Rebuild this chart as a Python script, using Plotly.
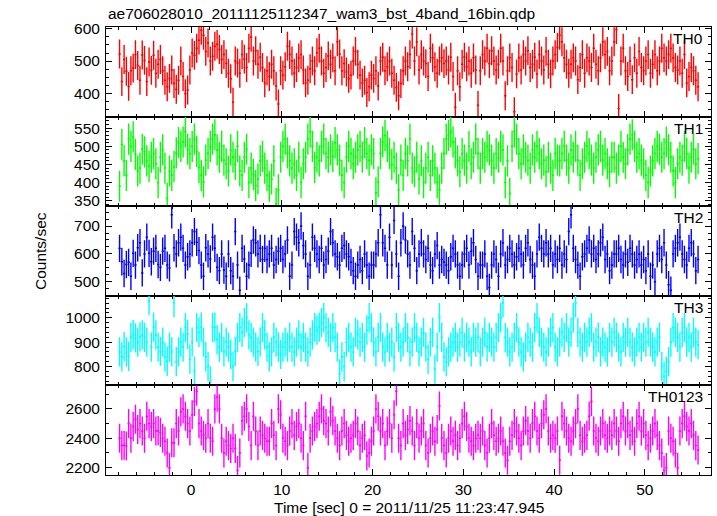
import numpy as np
import plotly.graph_objects as go

# ---------------- data ----------------
title_text = "ae706028010_20111125112347_wam3_bst_4band_16bin.qdp"
x_title = "Time [sec] 0 = 2011/11/25 11:23:47.945"
y_title = "Counts/sec"
panel_names = ["TH0", "TH1", "TH2", "TH3", "TH0123"]

t_start = -8.0          # s, start of first bin
bin_width = 0.25        # s
n_bins = 256

th0 = [
    522, 436, 505, 468, 421, 470, 478, 520, 486, 440, 519, 502, 436, 497, 471, 518,
    462, 490, 505, 470, 440, 420, 446, 472, 430, 412, 440, 500, 452, 398, 410, 472,
    525, 518, 540, 565, 596, 580, 530, 556, 500, 515, 546, 552, 536, 505, 520, 492,
    462, 445, 372, 500, 494, 462, 520, 506, 480, 540, 574, 500, 532, 490, 512, 480,
    432, 470, 452, 490, 470, 422, 366, 470, 456, 482, 546, 520, 500, 462, 480, 510,
    520, 472, 432, 440, 476, 500, 470, 526, 540, 500, 462, 480, 516, 490, 510, 470,
    560, 522, 470, 492, 466, 446, 456, 500, 530, 490, 456, 432, 440, 402, 420, 456,
    446, 470, 422, 500, 512, 470, 482, 500, 462, 440, 418, 392, 430, 470, 500, 482,
    520, 584, 500, 560, 472, 520, 500, 492, 452, 540, 510, 482, 462, 500, 510, 492,
    500, 472, 512, 452, 356, 470, 420, 490, 512, 482, 500, 462, 510, 472, 362, 470,
    520, 500, 540, 492, 532, 500, 472, 490, 540, 500, 392, 470, 510, 480, 342, 460,
    510, 472, 520, 500, 532, 480, 490, 512, 460, 520, 500, 472, 530, 490, 460, 500,
    520, 542, 580, 560, 510, 490, 462, 490, 510, 500, 442, 480, 520, 462, 510, 500,
    480, 540, 490, 470, 510, 560, 520, 530, 470, 500, 560, 598, 352, 500, 540, 470,
    452, 500, 442, 510, 462, 530, 480, 470, 500, 520, 462, 490, 520, 470, 500, 540,
    510, 500, 520, 540, 510, 480, 472, 500, 462, 520, 432, 452, 480, 470, 440, 420,
]

th1 = [
    390, 505, 460, 420, 520, 500, 526, 478, 432, 440, 492, 485, 460, 445, 470, 480,
    452, 400, 470, 490, 440, 356, 432, 420, 444, 482, 510, 500, 512, 540, 492, 480,
    500, 520, 486, 442, 420, 402, 462, 480, 500, 520, 532, 490, 470, 500, 462, 452,
    432, 490, 470, 450, 500, 432, 420, 470, 492, 400, 440, 422, 392, 410, 460, 472,
    440, 420, 390, 410, 460, 342, 380, 470, 500, 520, 482, 460, 440, 452, 420, 470,
    400, 452, 470, 520, 540, 500, 442, 470, 460, 500, 520, 480, 470, 490, 472, 510,
    490, 462, 420, 400, 470, 500, 480, 452, 470, 490, 500, 470, 510, 480, 462, 490,
    480, 372, 402, 480, 512, 530, 500, 480, 450, 470, 440, 380, 462, 420, 480, 460,
    520, 440, 430, 470, 410, 460, 400, 440, 470, 420, 460, 440, 400, 380, 440, 480,
    520, 530, 540, 512, 482, 460, 430, 480, 462, 440, 500, 452, 470, 520, 480, 440,
    480, 470, 500, 490, 462, 440, 480, 470, 500, 490, 400, 460, 370, 500, 540, 520,
    480, 452, 490, 470, 462, 440, 490, 470, 500, 480, 452, 462, 430, 470, 440, 420,
    480, 462, 460, 480, 500, 462, 440, 490, 470, 500, 462, 420, 452, 470, 500, 480,
    462, 440, 470, 490, 500, 462, 480, 452, 430, 470, 470, 440, 462, 500, 470, 452,
    490, 520, 532, 500, 470, 480, 462, 452, 420, 400, 432, 460, 480, 500, 492, 470,
    480, 512, 490, 470, 432, 400, 452, 470, 462, 500, 480, 440, 470, 492, 452, 466,
]

th2 = [
    620, 572, 530, 562, 570, 520, 602, 560, 622, 640, 532, 600, 660, 602, 572, 610,
    620, 562, 552, 610, 620, 560, 550, 740, 622, 600, 640, 660, 620, 560, 590, 600,
    640, 680, 642, 612, 560, 520, 622, 600, 582, 660, 620, 552, 540, 600, 542, 520,
    600, 540, 520, 680, 560, 470, 620, 582, 520, 560, 602, 650, 640, 600, 620, 580,
    620, 580, 600, 620, 560, 580, 610, 620, 580, 600, 650, 520, 560, 680, 660, 640,
    700, 630, 600, 520, 560, 660, 620, 600, 580, 620, 560, 580, 610, 680, 640, 600,
    590, 560, 620, 630, 600, 590, 570, 540, 520, 560, 580, 540, 600, 560, 520, 560,
    560, 600, 640, 740, 640, 620, 560, 660, 560, 720, 600, 520, 640, 700, 650, 600,
    560, 680, 620, 540, 600, 640, 600, 580, 620, 560, 540, 600, 630, 560, 580, 570,
    560, 540, 590, 620, 600, 560, 520, 560, 600, 620, 560, 610, 640, 580, 520, 560,
    560, 600, 520, 480, 560, 600, 580, 520, 600, 640, 560, 580, 620, 600, 560, 590,
    620, 600, 560, 620, 640, 580, 560, 520, 600, 660, 620, 600, 640, 600, 620, 560,
    600, 580, 620, 560, 600, 580, 680, 740, 620, 580, 560, 520, 590, 600, 620, 650,
    600, 620, 580, 600, 640, 660, 580, 600, 540, 560, 600, 600, 620, 580, 560, 600,
    570, 620, 600, 560, 580, 600, 560, 580, 540, 600, 520, 560, 500, 600, 620, 580,
    640, 560, 490, 470, 600, 620, 640, 660, 600, 580, 560, 620, 640, 600, 540, 580,
]

th3 = [
    860, 840, 882, 860, 842, 920, 932, 918, 900, 922, 930, 920, 900, 1070, 880, 962,
    930, 880, 862, 900, 840, 822, 880, 860, 1062, 820, 860, 900, 880, 960, 932, 830,
    900, 780, 960, 940, 962, 900, 840, 800, 740, 960, 962, 910, 880, 920, 860, 900,
    880, 850, 800, 862, 920, 960, 940, 980, 1000, 930, 920, 900, 880, 862, 900, 960,
    930, 880, 840, 860, 920, 900, 880, 850, 880, 900, 880, 920, 880, 860, 900, 930,
    880, 920, 880, 860, 900, 930, 960, 950, 962, 980, 1000, 960, 940, 920, 960, 920,
    880, 770, 840, 800, 900, 920, 880, 860, 940, 930, 900, 920, 880, 950, 1000, 960,
    900, 860, 920, 960, 880, 860, 920, 880, 900, 840, 960, 920, 880, 900, 960, 920,
    860, 900, 960, 920, 860, 900, 940, 880, 830, 900, 940, 790, 880, 1000, 920, 840,
    820, 860, 880, 900, 920, 880, 900, 940, 880, 920, 900, 860, 920, 900, 920, 860,
    900, 940, 880, 920, 900, 880, 920, 960, 1000, 1062, 920, 900, 860, 880, 920, 960,
    900, 860, 840, 880, 920, 900, 880, 960, 1000, 940, 900, 880, 860, 900, 940, 960,
    880, 860, 900, 940, 920, 960, 900, 940, 1000, 1062, 940, 900, 880, 920, 900, 940,
    960, 880, 900, 920, 860, 900, 880, 860, 920, 900, 940, 920, 880, 860, 920, 900,
    940, 900, 880, 860, 900, 920, 880, 920, 900, 940, 900, 880, 860, 900, 920, 800,
    760, 780, 820, 900, 960, 940, 920, 880, 940, 960, 900, 920, 880, 940, 900, 890,
]

th0123 = [
    2400, 2350, 2352, 2348, 2500, 2400, 2480, 2530, 2460, 2500, 2450, 2400, 2550, 2500, 2480, 2500,
    2450, 2452, 2440, 2400, 2380, 2300, 2200, 2370, 2370, 2500, 2450, 2580, 2600, 2550, 2500, 2450,
    2560, 2650, 2720, 2500, 2450, 2420, 2400, 2500, 2400, 2380, 2600, 2680, 2600, 2400, 2300, 2380,
    2350, 2330, 2400, 2330, 2180, 2300, 2520, 2550, 2600, 2480, 2350, 2550, 2450, 2350, 2450, 2420,
    2400, 2380, 2380, 2500, 2420, 2350, 2600, 2560, 2400, 2380, 2350, 2450, 2500, 2420, 2480, 2500,
    2400, 2350, 2550, 2200, 2400, 2450, 2480, 2500, 2550, 2600, 2520, 2500, 2450, 2580, 2520, 2450,
    2400, 2350, 2450, 2500, 2420, 2380, 2400, 2420, 2500, 2450, 2350, 2400, 2420, 2280, 2300, 2380,
    2450, 2600, 2550, 2450, 2500, 2350, 2450, 2500, 2400, 2560, 2720, 2400, 2350, 2500, 2420, 2460,
    2520, 2450, 2350, 2500, 2400, 2450, 2500, 2350, 2300, 2400, 2450, 2380, 2460, 2620, 2400, 2350,
    2300, 2400, 2450, 2380, 2420, 2350, 2400, 2500, 2550, 2480, 2400, 2380, 2350, 2400, 2420, 2400,
    2450, 2350, 2300, 2400, 2500, 2420, 2380, 2400, 2450, 2380, 2300, 2250, 2380, 2420, 2500, 2450,
    2400, 2350, 2450, 2520, 2450, 2400, 2500, 2550, 2450, 2400, 2500, 2560, 2600, 2450, 2400, 2420,
    2400, 2450, 2250, 2550, 2500, 2450, 2400, 2380, 2450, 2500, 2600, 2420, 2380, 2400, 2420, 2550,
    2650, 2450, 2400, 2380, 2450, 2500, 2420, 2400, 2450, 2420, 2500, 2450, 2380, 2500, 2550, 2450,
    2500, 2420, 2450, 2380, 2500, 2550, 2450, 2500, 2420, 2350, 2400, 2450, 2500, 2420, 2350, 2300,
    2180, 2200, 2450, 2400, 2380, 2300, 2200, 2450, 2500, 2550, 2480, 2450, 2500, 2420, 2350, 2320,
]

# typical 1-sigma error per bin in each band
errors = [45, 43, 49, 60, 99]

y_tickvals = [
    [400, 500, 600],
    [350, 400, 450, 500, 550],
    [500, 600, 700],
    [800, 900, 1000],
    [2200, 2400, 2600],
]
x_tickvals = [0, 10, 20, 30, 40, 50]

series = [th0, th1, th2, th3, th0123]
for s in series:
    assert len(s) == n_bins

time = t_start + bin_width * (np.arange(n_bins) + 0.5)

# ---------------- figure ----------------
colors = ["#ff0000", "#00ff00", "#0000ff", "#00ffff", "#ff00ff"]
y_ranges = [[327, 606], [335, 582], [450, 771], [723, 1090], [2150, 2760]]
y_minor = [25, 10, 25, 20, 100]
x_range = [-9.37, 57.3]
FONT = "Liberation Sans, Arial, Helvetica, sans-serif"
FS = 15.5

fig = go.Figure()
layout = dict(
    width=717, height=516,
    margin=dict(l=106, r=6, t=27, b=41),
    paper_bgcolor="white", plot_bgcolor="white",
    showlegend=False,
    font=dict(family=FONT, size=FS, color="black"),
)

n = len(series)
for k in range(n):
    sfx = "" if k == 0 else str(k + 1)
    fig.add_trace(go.Scatter(
        x=time, y=series[k],
        mode="markers",
        marker=dict(size=1, color=colors[k]),
        error_x=dict(type="constant", value=bin_width / 2, color=colors[k],
                     thickness=1.5, width=0),
        error_y=dict(type="constant", value=errors[k], color=colors[k],
                     thickness=1.4, width=0),
        xaxis="x" + sfx, yaxis="y" + sfx,
        hoverinfo="skip",
    ))
    top = 1 - k / n
    bot = 1 - (k + 1) / n
    layout["xaxis" + sfx] = dict(
        domain=[0, 1], anchor="y" + sfx, range=x_range,
        showline=True, linecolor="black", linewidth=1, mirror="ticks",
        ticks="inside", ticklen=6, tickwidth=1, tickcolor="black",
        tickvals=x_tickvals, ticktext=[str(v) for v in x_tickvals],
        showticklabels=(k == n - 1),
        minor=dict(dtick=2, tick0=0, ticks="inside", ticklen=3, tickcolor="black", showgrid=False),
        showgrid=False, zeroline=False,
        tickfont=dict(family=FONT, size=FS),
        **({} if k == 0 else {"matches": "x"}),
    )
    layout["yaxis" + sfx] = dict(
        domain=[bot, top], anchor="x" + sfx, range=y_ranges[k],
        showline=True, linecolor="black", linewidth=1, mirror="ticks",
        ticks="inside", ticklen=6, tickwidth=1, tickcolor="black",
        tickvals=y_tickvals[k], ticktext=[str(v) for v in y_tickvals[k]],
        minor=dict(dtick=y_minor[k], tick0=0, ticks="inside", ticklen=3, tickcolor="black", showgrid=False),
        showgrid=False, zeroline=False,
        tickfont=dict(family=FONT, size=FS),
        ticklabelstandoff=2,
    )

annotations = []
for k in range(n):
    annotations.append(dict(
        text=panel_names[k], xref="paper", yref="paper",
        x=1, y=1 - k / n, xanchor="right", yanchor="top",
        xshift=-6, yshift=-1, showarrow=False,
        font=dict(family=FONT, size=FS, color="black"),
    ))
annotations.append(dict(
    text=title_text, xref="paper", yref="paper", x=0, y=1,
    xanchor="left", yanchor="bottom", xshift=0, yshift=3, showarrow=False,
    font=dict(family=FONT, size=FS, color="black"),
))
annotations.append(dict(
    text=x_title, xref="paper", yref="paper", x=0.5, y=0,
    xanchor="center", yanchor="middle", yshift=-32, showarrow=False,
    font=dict(family=FONT, size=FS, color="black"),
))
annotations.append(dict(
    text=y_title, xref="paper", yref="paper", x=0, y=0.5,
    xanchor="center", yanchor="middle", xshift=-66, textangle=-90, showarrow=False,
    font=dict(family=FONT, size=FS, color="black"),
))
layout["annotations"] = annotations

fig.update_layout(**layout)
fig.write_html("out.html",
               config={"displayModeBar": False},
               post_script="document.body.style.margin='0px';document.body.style.padding='0px';")
